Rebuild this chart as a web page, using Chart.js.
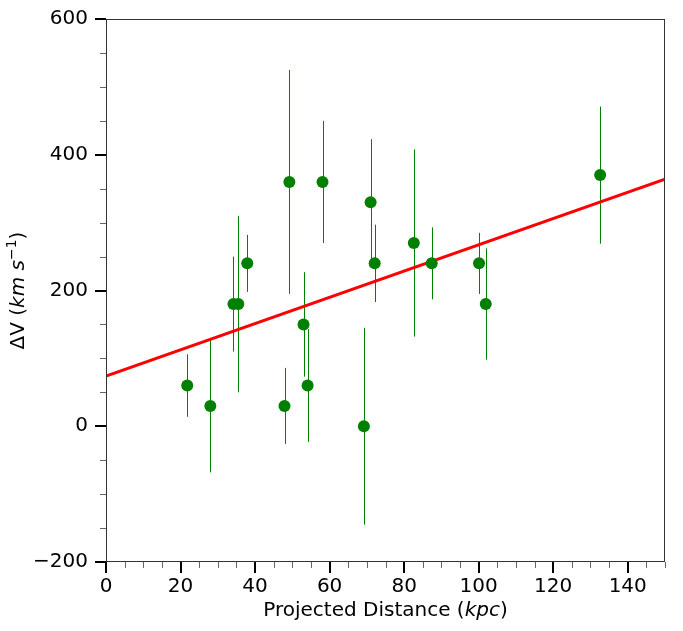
<!DOCTYPE html>
<html>
<head>
<meta charset="utf-8">
<script src="https://cdn.jsdelivr.net/npm/chart.js@4/dist/chart.umd.min.js"></script>
<style>
  html, body { margin: 0; padding: 0; background: #fff; }
  #wrap { width: 683px; height: 631px; }
</style>
</head>
<body>
<div id="wrap"><canvas id="myChart" width="683" height="631"></canvas></div>
<script>
// projected distance (kpc), velocity offset (km/s) and its error
const distances = [21.8, 28.0, 34.2, 35.5, 37.9, 47.9, 49.2, 53.0, 54.1, 58.1, 69.2, 71.0, 72.1, 82.6, 87.4, 100.1, 101.9, 132.6];
const deltaV    = [60, 30, 180, 180, 240, 30, 360, 150, 60, 360, 0, 330, 240, 270, 240, 240, 180, 370];
const deltaVErr = [46, 98, 70, 130, 42, 56, 165, 77, 83, 90, 145, 93, 57, 138, 53, 45, 82, 101];

// linear fit
const fitIntercept = 74;
const fitSlope = 1.933;

const xRange = [0, 150];
const yRange = [-200, 600];
const xTickValues = [0, 20, 40, 60, 80, 100, 120, 140];
const yTickValues = [-200, 0, 200, 400, 600];
const xMinorStep = 5;
const yMinorStep = 50;

const FONT = "'DejaVu Sans', sans-serif";

const points = distances.map((d, i) => ({ x: d, y: deltaV[i] }));
const fitLine = xRange.map(x => ({ x: x, y: fitIntercept + fitSlope * x }));

const errorBars = {
  id: 'errorBars',
  beforeDatasetsDraw(chart) {
    const ctx = chart.ctx;
    const xs = chart.scales.x, ys = chart.scales.y;
    ctx.save();
    ctx.strokeStyle = '#008000';
    ctx.lineWidth = 1;
    distances.forEach((d, i) => {
      const px = Math.round(xs.getPixelForValue(d)) + 0.5;
      ctx.beginPath();
      ctx.moveTo(px, ys.getPixelForValue(deltaV[i] + deltaVErr[i]));
      ctx.lineTo(px, ys.getPixelForValue(deltaV[i] - deltaVErr[i]));
      ctx.stroke();
    });
    ctx.restore();
  }
};

const frame = {
  id: 'frame',
  afterDraw(chart) {
    const ctx = chart.ctx;
    const a = chart.chartArea;
    const xs = chart.scales.x, ys = chart.scales.y;
    ctx.save();
    ctx.strokeStyle = '#333';
    ctx.lineWidth = 1;
    ctx.strokeRect(a.left + 0.5, a.top + 0.5, a.right - a.left - 1, a.bottom - a.top - 1);

    // x ticks
    for (let v = xRange[0]; v <= xRange[1]; v += xMinorStep) {
      const major = xTickValues.includes(v);
      const px = Math.round(xs.getPixelForValue(v));
      ctx.beginPath();
      ctx.strokeStyle = major ? '#000' : '#666';
      ctx.lineWidth = major ? 2 : 1;
      const off = major ? 0 : 0.5;
      ctx.moveTo(px + off, a.bottom);
      ctx.lineTo(px + off, a.bottom + (major ? 11 : 6));
      ctx.stroke();
    }
    // y ticks
    for (let v = yRange[0]; v <= yRange[1]; v += yMinorStep) {
      const major = yTickValues.includes(v);
      const py = Math.round(ys.getPixelForValue(v));
      ctx.beginPath();
      ctx.strokeStyle = major ? '#000' : '#666';
      ctx.lineWidth = major ? 2 : 1;
      const off = major ? 0 : 0.5;
      ctx.moveTo(a.left, py + off);
      ctx.lineTo(a.left - (major ? 11 : 6), py + off);
      ctx.stroke();
    }

    // axis titles with italic units
    ctx.fillStyle = '#000';
    ctx.textBaseline = 'middle';
    const drawParts = (parts, cx, cy) => {
      let w = 0;
      parts.forEach(p => { ctx.font = p.font; w += ctx.measureText(p.t).width; });
      let x = cx - w / 2;
      ctx.textAlign = 'left';
      parts.forEach(p => {
        ctx.font = p.font;
        ctx.fillText(p.t, x, cy + (p.dy || 0));
        x += ctx.measureText(p.t).width;
      });
    };
    const reg = '20px ' + FONT, ita = 'oblique 20px ' + FONT, sup = '14px ' + FONT;
    drawParts([
      { t: 'Projected Distance (', font: reg },
      { t: 'kpc', font: ita },
      { t: ')', font: reg }
    ], (a.left + a.right) / 2, 611);

    ctx.translate(19, (a.top + a.bottom) / 2);
    ctx.rotate(-Math.PI / 2);
    drawParts([
      { t: 'ΔV (', font: reg },
      { t: 'km s', font: ita },
      { t: '−1', font: sup, dy: -7 },
      { t: ')', font: reg }
    ], 0, 0);
    ctx.restore();
  }
};

const fmt = v => (v < 0 ? '\u2212' + Math.abs(v) : String(v));

new Chart(document.getElementById('myChart'), {
  type: 'scatter',
  data: {
    datasets: [
      {
        data: points,
        backgroundColor: '#008000',
        borderColor: '#008000',
        pointRadius: 6,
        pointHoverRadius: 6,
        borderWidth: 0,
        order: 1
      },
      {
        type: 'line',
        data: fitLine,
        borderColor: '#ff0000',
        borderWidth: 3,
        pointRadius: 0,
        fill: false,
        order: 2
      }
    ]
  },
  options: {
    responsive: false,
    animation: false,
    events: [],
    layout: { padding: { left: 0, top: 19, right: 18, bottom: 0 } },
    plugins: { legend: { display: false }, tooltip: { enabled: false } },
    scales: {
      x: {
        type: 'linear',
        min: xRange[0],
        max: xRange[1],
        afterBuildTicks: s => { s.ticks = xTickValues.map(v => ({ value: v })); },
        afterFit: s => { s.height = 69; s.paddingLeft = 0; s.paddingRight = 0; },
        grid: { display: false, drawTicks: false },
        border: { display: false },
        ticks: {
          padding: 13,
          color: '#000',
          font: { family: FONT, size: 20 },
          maxRotation: 0,
          callback: fmt
        }
      },
      y: {
        type: 'linear',
        min: yRange[0],
        max: yRange[1],
        afterBuildTicks: s => { s.ticks = yTickValues.map(v => ({ value: v })); },
        afterFit: s => { s.width = 106; s.paddingTop = 0; s.paddingBottom = 0; },
        grid: { display: false, drawTicks: false },
        border: { display: false },
        ticks: {
          padding: 18,
          color: '#000',
          font: { family: FONT, size: 20 },
          callback: fmt
        }
      }
    }
  },
  plugins: [errorBars, frame]
});
</script>
</body>
</html>
